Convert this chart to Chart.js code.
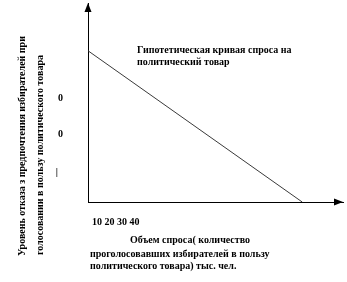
<!DOCTYPE html>
<html>
<head>
<meta charset="utf-8">
<script src="https://cdn.jsdelivr.net/npm/chart.js@4/dist/chart.umd.min.js"></script>
<style>
  html, body { margin: 0; padding: 0; background: #fff; }
  #wrap { width: 347px; height: 282px; }
</style>
</head>
<body>
<div id="wrap"><canvas id="myChart"></canvas></div>
<script>
// demand curve: volume (x) vs level (y)
const demandX = [0, 84];
const demandY = [76, 0];
// y tick marks as they appear in the scan
const yTickValues = [52, 34, 15];
const yTickLabels = ['0', '0', '|  '];
const xTickLabels = ['10', '20', '30', '40'];

const curveLabel = ['Гипотетическая кривая спроса на', 'политический товар'];
const xTitle = ['Объем спроса( количество', 'проголосовавших избирателей в пользу', 'политического товара) тыс. чел.'];
const yTitle = ['Уровень отказа з предпочтения избирателей при', 'голосовании в пользу политического товара'];

const FONT = 'bold 10px "Liberation Serif", "Times New Roman", serif';

// arrows + free text, drawn after the chart
const extras = {
    id: 'extras',
    afterDraw(chart) {
        const ctx = chart.ctx;
        const a = chart.chartArea;
        ctx.save();
        ctx.fillStyle = '#000';
        // arrow on y axis
        ctx.beginPath();
        ctx.moveTo(a.left, a.top);
        ctx.lineTo(a.left - 3.5, a.top + 9);
        ctx.lineTo(a.left + 3.5, a.top + 9);
        ctx.closePath();
        ctx.fill();
        // arrow on x axis
        ctx.beginPath();
        ctx.moveTo(a.right, a.bottom);
        ctx.lineTo(a.right - 9, a.bottom - 3.5);
        ctx.lineTo(a.right - 9, a.bottom + 3.5);
        ctx.closePath();
        ctx.fill();

        ctx.font = FONT;
        ctx.textBaseline = 'middle';
        ctx.textAlign = 'left';
        ctx.fillText(curveLabel[0], 137, 50);
        ctx.fillText(curveLabel[1], 137, 62);
        ctx.fillText(xTickLabels.join(' '), 92, 222);
        ctx.fillText(xTitle[0], 130, 240);
        ctx.fillText(xTitle[1], 90, 254);
        ctx.fillText(xTitle[2], 90, 266);

        // rotated y title
        ctx.textAlign = 'center';
        ctx.save();
        ctx.translate(22, 146);
        ctx.rotate(-Math.PI / 2);
        ctx.fillText(yTitle[0], 0, 0);
        ctx.restore();
        ctx.save();
        ctx.translate(40, 155);
        ctx.rotate(-Math.PI / 2);
        ctx.fillText(yTitle[1], 0, 0);
        ctx.restore();
        ctx.restore();
    }
};

new Chart(document.getElementById('myChart'), {
    type: 'line',
    data: {
        datasets: [{
            data: demandX.map((x, i) => ({ x: x, y: demandY[i] })),
            borderColor: '#3a3a3a',
            borderWidth: 1,
            pointRadius: 0,
            fill: false,
            tension: 0
        }]
    },
    options: {
        responsive: true,
        maintainAspectRatio: false,
        animation: false,
        layout: { padding: { top: 3, right: 4, left: 0, bottom: 0 } },
        scales: {
            x: {
                type: 'linear',
                min: 0,
                max: 100,
                grid: { display: false, drawTicks: false },
                border: { display: true, color: '#000', width: 1 },
                ticks: { display: false },
                afterFit(scale) {
                    scale.height = 80;
                    scale.paddingLeft = 0;
                    scale.paddingRight = 0;
                }
            },
            y: {
                min: 0,
                max: 100,
                grid: { display: false, drawTicks: false },
                border: { display: true, color: '#000', width: 1 },
                afterBuildTicks(scale) {
                    scale.ticks = yTickValues.map(v => ({ value: v }));
                },
                ticks: {
                    padding: 25,
                    color: '#000',
                    font: { family: '"Liberation Serif", serif', size: 10, weight: 'bold' },
                    callback: function(value, index) {
                        return yTickLabels[index];
                    }
                },
                afterFit(scale) {
                    // padding pushes the area down otherwise
                    scale.width = 88;
                    scale.paddingTop = 0;
                    scale.paddingBottom = 0;
                }
            }
        },
        plugins: {
            legend: { display: false },
            tooltip: { enabled: false }
        }
    },
    plugins: [extras]
});
</script>
</body>
</html>
